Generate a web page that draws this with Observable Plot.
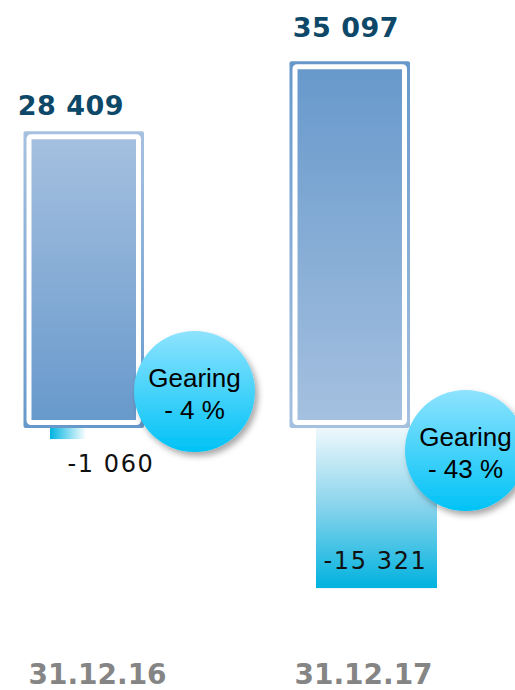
<!DOCTYPE html>
<html><head><meta charset="utf-8">
<script src="https://cdn.jsdelivr.net/npm/d3@7"></script>
<script src="https://cdn.jsdelivr.net/npm/@observablehq/plot@0.6"></script>
<style>html,body{margin:0;padding:0;background:#fff;overflow:hidden}</style>
</head><body><div id="chart"></div>
<script>
const dates = ["31.12.16", "31.12.17"];
const equity = [28409, 35097];
const netDebt = [-1060, -15321];
const gearing = [-4, -43];

const fmt = d3.formatLocale({decimal: ",", thousands: " ", grouping: [3], currency: ["", ""], minus: "-"}).format(",d");
const rows = dates.map((date, i) => ({date, equity: equity[i], debt: netDebt[i], gearing: gearing[i]}));

// layout (pixels)
const eqLabelOffset = [{dx: -26.5, dy: -17}, {dx: -17.5, dy: -25}];
const debtLabelOffset = [{dx: 13.5, dy: 32}, {dx: 12, dy: -20}];
const bubbleOffset = [{dx: 97, dy: -37}, {dx: 102, dy: 22}];
const posFill = ["url(#gPos0)", "url(#gPos1)"];
const negFill = ["url(#gNeg0)", "url(#gNeg1)"];

function defs() {
  const d = d3.create("svg:defs");
  const lin = (id, stops, x2 = 0, y2 = 1) => {
    const g = d.append("linearGradient").attr("id", id).attr("x1", 0).attr("y1", 0).attr("x2", x2).attr("y2", y2);
    stops.forEach(([o, c]) => g.append("stop").attr("offset", o).attr("stop-color", c));
  };
  lin("gPos0", [[0, "#a6c1e0"], [1, "#6698cb"]]);
  lin("gPos1", [[0, "#6698cb"], [1, "#a6c1e0"]]);
  lin("gNeg0", [[0, "#00b4e1"], [0.3, "#ffffff"], [0.8, "#ffffff"], [1, "#c8eef9"]], 1, 0);
  lin("gNeg1", [[0, "#eef8fc"], [0.5, "#86d3ec"], [1, "#00b2df"]]);
  lin("gBubble", [[0, "#8ee3fe"], [1, "#00c2f6"]]);
  const f = d.append("filter").attr("id", "shadow").attr("x", "-30%").attr("y", "-30%").attr("width", "160%").attr("height", "160%");
  f.append("feDropShadow").attr("dx", 3).attr("dy", 4).attr("stdDeviation", 3).attr("flood-color", "#000").attr("flood-opacity", 0.35);
  return d.node();
}

const marks = [defs];
rows.forEach((r, i) => {
  marks.push(Plot.barY([r], {x: "date", y: "debt", insetLeft: 86, insetRight: 59, fill: negFill[i]}));
});
rows.forEach((r, i) => {
  marks.push(Plot.barY([r], {x: "date", y: "equity", insetLeft: 59.5, insetRight: 86, fill: posFill[i], rx: 2}));
  marks.push(Plot.barY([r], {x: "date", y: "equity", insetLeft: 65, insetRight: 91.5, insetTop: 5.5, insetBottom: 5.5, fill: "none", stroke: "white", strokeWidth: 5, rx: 2}));
});
rows.forEach((r, i) => {
  marks.push(Plot.dot([r], {x: "date", y: () => 0, r: 60.5, dx: bubbleOffset[i].dx, dy: bubbleOffset[i].dy, fill: "url(#gBubble)", stroke: null}));
  marks.push(Plot.text([r], {x: "date", y: () => 0, text: d => `Gearing\n- ${Math.abs(d.gearing)} %`, dx: bubbleOffset[i].dx, dy: bubbleOffset[i].dy + 1, fontSize: 26, lineHeight: 1.23, fontFamily: "Liberation Sans", fill: "#000"}));
  marks.push(Plot.text([r], {x: "date", y: "equity", text: d => fmt(d.equity), dx: eqLabelOffset[i].dx, dy: eqLabelOffset[i].dy, lineAnchor: "bottom", fontSize: 27, fontWeight: "bold", fontFamily: "DejaVu Sans", fill: "#0d4868"}));
  marks.push(Plot.text([r], {x: "date", y: "debt", text: d => fmt(d.debt), dx: debtLabelOffset[i].dx, dy: debtLabelOffset[i].dy, lineAnchor: "bottom", fontSize: 24, fontFamily: "DejaVu Sans", fill: "#111"}));
});
marks.push(Plot.text(rows, {x: "date", text: "date", frameAnchor: "bottom", lineAnchor: "bottom", dy: -7, fontSize: 28, fontWeight: "bold", fontFamily: "DejaVu Sans", fill: "#858585"}));

const chart = Plot.plot({
  width: 515, height: 690, margin: 0,
  x: {type: "band", domain: dates, range: [-36, 496], padding: 0, axis: null},
  y: {domain: [-25072, 40957], range: [690, 0], axis: null},
  style: {background: "white", overflow: "hidden"},
  marks
});
d3.select(chart).selectAll("g[aria-label=dot] circle").attr("filter", "url(#shadow)");
const debtStrings = netDebt.map(fmt), eqStrings = equity.map(fmt);
d3.select(chart).selectAll("text").each(function() {
  const t = this.textContent;
  if (debtStrings.includes(t)) this.setAttribute("letter-spacing", "1.6");
  else if (eqStrings.includes(t)) this.setAttribute("letter-spacing", "0.5");
});
document.getElementById("chart").append(chart);
</script>
</body></html>
